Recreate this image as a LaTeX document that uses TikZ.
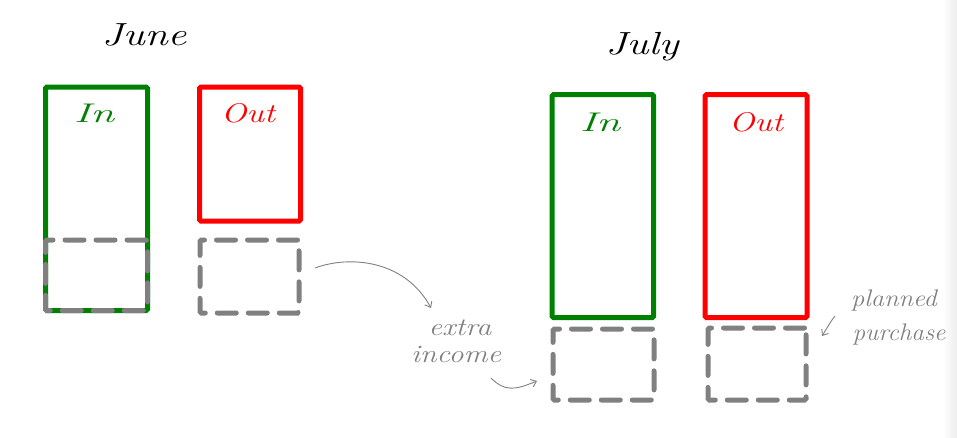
\documentclass[tikz,border=0pt]{standalone}
\usetikzlibrary{arrows.meta,shadings}
\definecolor{ink}{HTML}{008000}
\definecolor{outred}{HTML}{FF0000}
\definecolor{pencil}{HTML}{808080}
\tikzset{
  inbox/.style={draw=ink,line width=5pt,rounded corners=1.5pt,minimum width=#1,inner sep=0pt},
  outbox/.style={draw=outred,line width=5pt,rounded corners=1.5pt,inner sep=0pt},
  plannedbox/.style={draw=pencil,line width=5pt,rounded corners=1.5pt,inner sep=0pt,
     dash pattern=on 19pt off 12pt,line cap=round},
  hand/.style={font=\itshape\fontsize{#1}{#1}\selectfont,inner sep=0pt},
  note/.style={draw=pencil,line width=0.9pt,-{Straight Barb[length=5pt,width=8pt]}}
}
\begin{document}
\begin{tikzpicture}[x=1pt,y=-1pt]
\useasboundingbox (0,0) rectangle (957,437);
\shade[left color=white,right color=black!7] (942,0) rectangle (957,437);
% June
\node[hand=32,xscale=1.3] (june) at (144,35) {June};
\node[inbox=102pt,minimum height=223.5pt] (jin) at (96.5,198.75) {};
\node[outbox,minimum width=101pt,minimum height=134pt] (jout) at (250,154) {};
\node[plannedbox,minimum width=102pt,minimum height=70.5pt] (jindash) at (96.5,275.25) {};
\node[plannedbox,minimum width=99pt,minimum height=73pt] (joutdash) at (249.5,276.5) {};
\node[hand=27,text=ink,xscale=1.6] (jinlabel) at (94,113) {In};
\node[hand=27,text=outred,xscale=1.25] (joutlabel) at (248,113) {Out};
% July
\node[hand=32,xscale=1.3] (july) at (642,47) {July};
\node[inbox=101.7pt,minimum height=222.8pt] (lin) at (602.85,206.1) {};
\node[outbox,minimum width=102pt,minimum height=222.8pt] (lout) at (756,206.1) {};
\node[plannedbox,minimum width=101pt,minimum height=71pt] (lindash) at (603.5,364.5) {};
\node[plannedbox,minimum width=98pt,minimum height=72pt] (loutdash) at (757,364) {};
\node[hand=27,text=ink,xscale=1.6] (linlabel) at (600,122) {In};
\node[hand=27,text=outred,xscale=1.25] (loutlabel) at (756,122) {Out};
% notes
\node[hand=25,text=pencil,xscale=1.2] (extra) at (460,328) {extra};
\node[hand=25,text=pencil,xscale=1.2] (income) at (456,354) {income};
\node[hand=24,text=pencil,xscale=1.1] (planned) at (894,300) {planned};
\node[hand=24,text=pencil,xscale=1.05] (purchase) at (899,334) {purchase};
\coordinate (a1s) at (315,268);
\coordinate (a1e) at (431,308);
\coordinate (a2s) at (491,378);
\coordinate (a2e) at (537,381);
\coordinate (a3s) at (835,316);
\coordinate (a3e) at (822,336);
\draw[note] (a1s) .. controls (350,255) and (405,260) .. (a1e);
\draw[note] (a2s) .. controls (505,392) and (515,390) .. (a2e);
\draw[note] (a3s) .. controls (830,322) and (826,330) .. (a3e);
\end{tikzpicture}
\end{document}
